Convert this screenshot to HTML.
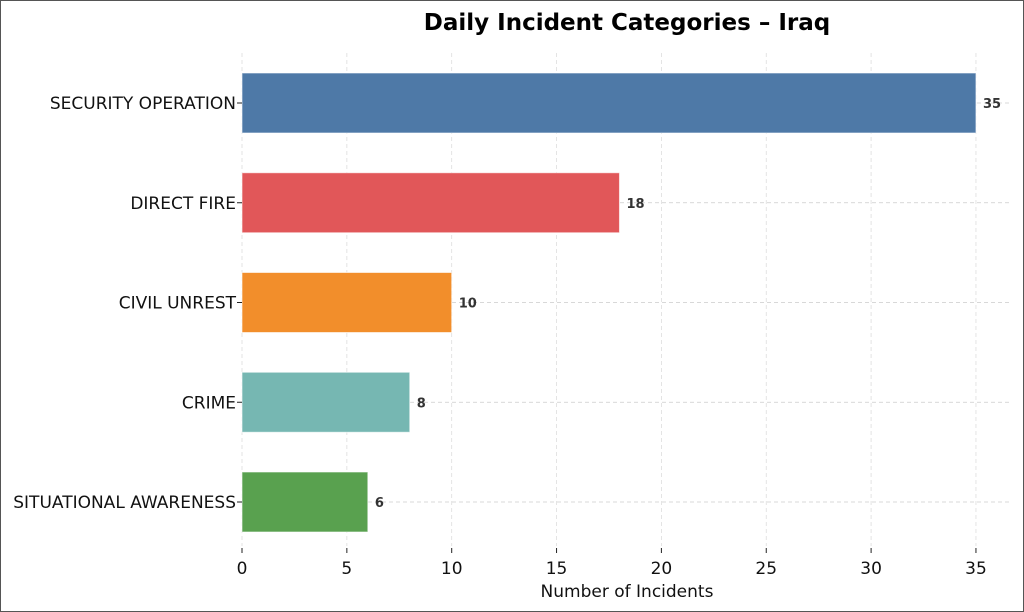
<!DOCTYPE html>
<html><head><meta charset="utf-8"><style>
html,body{margin:0;padding:0;background:#fff;}
svg{display:block;font-family:"Liberation Sans","DejaVu Sans",sans-serif;}
</style></head><body>
<svg id="chart" width="1024" height="612" viewBox="0 0 1024 612">
<rect x="0.5" y="0.5" width="1023" height="611" fill="#fff" stroke="#555" stroke-width="1"/>
<text x="627" y="30" text-anchor="middle" font-family="DejaVu Sans, sans-serif" font-weight="bold" font-size="23" fill="#000">Daily Incident Categories – Iraq</text>
<text x="627" y="597" text-anchor="middle" font-family="DejaVu Sans, sans-serif" font-size="17" fill="#111">Number of Incidents</text>
<g id="plot"></g>
</svg>
<script>
const categories=["SECURITY OPERATION","DIRECT FIRE","CIVIL UNREST","CRIME","SITUATIONAL AWARENESS"];
const values=[35,18,10,8,6];
const colors=["#4e79a7","#e15759","#f28e2b","#76b7b2","#59a14f"];
const xTicks=[0,5,10,15,20,25,30,35];
const NS="http://www.w3.org/2000/svg";
const g=document.getElementById("plot");
const x0=242, pxPer=20.97, plotTop=53, plotBottom=546, plotRight=1010;
const xs=v=>x0+v*pxPer;
const bandH=99.75;
const yc=i=>103+bandH*i;
function mk(t,a){const e=document.createElementNS(NS,t);for(const k in a)e.setAttribute(k,a[k]);g.appendChild(e);return e;}
xTicks.forEach(t=>{
  const l=mk("line",{x1:xs(t),x2:xs(t),y1:plotTop,y2:plotBottom,stroke:"#ddd","stroke-dasharray":"4,3","stroke-width":0.8});
  
  
  const tk=mk("line",{x1:xs(t),x2:xs(t),y1:548,y2:553,stroke:"#222","stroke-width":1});
  
  
  const tx=mk("text",{x:xs(t),y:574,"text-anchor":"middle","font-size":17,fill:"#111","font-family":"DejaVu Sans, sans-serif"});
  tx.textContent=t;
  
  
});
categories.forEach((c,i)=>{
  const y=yc(i);
  const gl=mk("line",{x1:x0,x2:plotRight,y1:y,y2:y,stroke:"#ccc","stroke-dasharray":"4,3","stroke-width":0.8});
  
  
  const r=mk("rect",{x:x0,y:y-30,width:xs(values[i])-x0,height:60,fill:colors[i],stroke:"#fff","stroke-opacity":0.6,"stroke-width":1});
  
  
  const tk=mk("line",{x1:237,x2:242,y1:y,y2:y,stroke:"#222","stroke-width":1});
  
  
  const lb=mk("text",{x:236,y:y+6,"text-anchor":"end","font-size":17,fill:"#111","font-family":"DejaVu Sans, sans-serif"});
  lb.textContent=c;
  
  
  const vl=mk("text",{x:xs(values[i])+7,y:y+5,"font-size":13,"font-weight":"bold",fill:"#333","font-family":"DejaVu Sans, sans-serif"});
  vl.textContent=values[i];
  
  
});
</script>
</body></html>
